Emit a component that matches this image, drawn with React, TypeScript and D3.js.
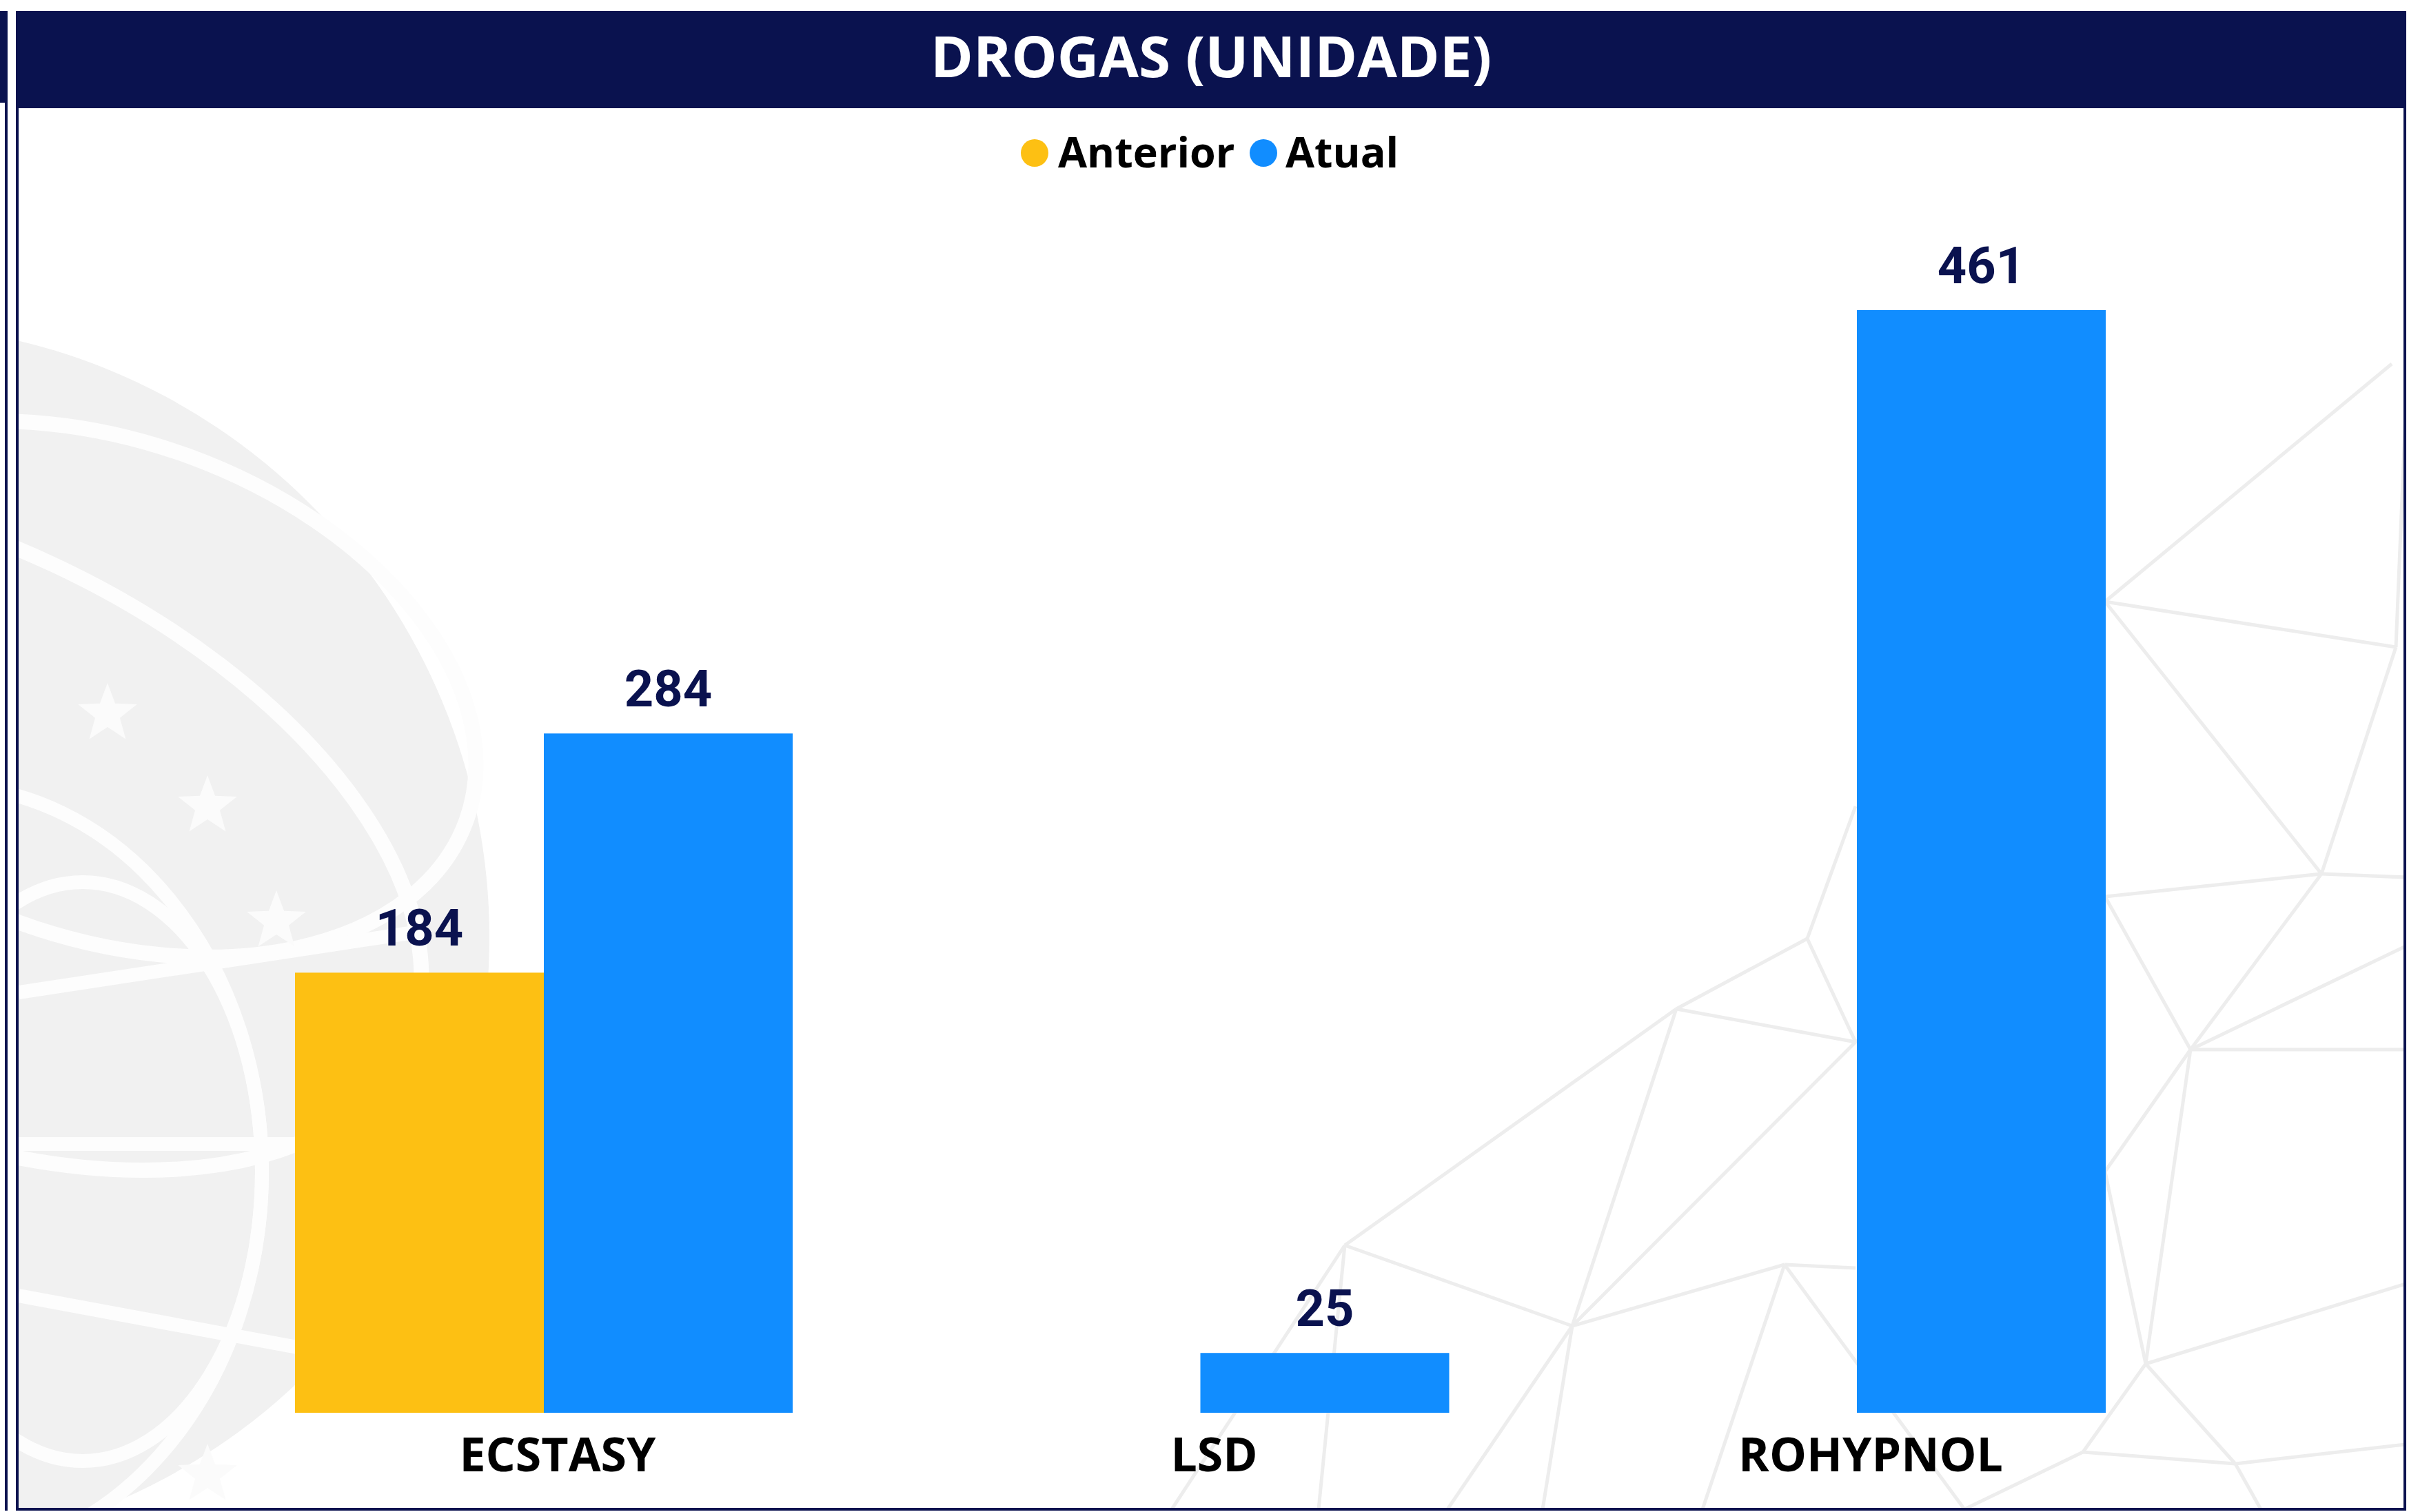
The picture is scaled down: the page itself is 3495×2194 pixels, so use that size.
import React from "react";
import * as d3 from "d3";

const title = "DROGAS (UNIDADE)";
const categories = ["ECSTASY", "LSD", "ROHYPNOL"];
const seriesNames = ["Anterior", "Atual"];
const anteriorValues: (number | null)[] = [184, null, null];
const atualValues: (number | null)[] = [284, 25, 461];
const seriesColors = ["#FDC013", "#118DFF"];

// decorative watermark mesh (background graphic)
const meshPoints: [number, number][] = [
  [3470, 528], [3054, 873], [3476, 939], [3368, 1268], [3054, 1301],
  [2622, 1362], [2432, 1464], [2692, 1512], [3178, 1523], [3490, 1273],
  [3490, 1523], [3490, 1373], [1951, 1807], [2281, 1924], [2589, 1835],
  [3113, 1979], [3022, 2107], [3243, 2124], [3490, 1863], [3490, 2096],
  [1913, 2190], [2238, 2190], [2470, 2190], [2692, 1840], [3054, 1700],
  [2692, 1170], [3280, 2190], [2850, 2190], [3490, 600], [1700, 2190],
  [2100, 2190],
];
const meshEdges: [number, number][] = [
  [0, 1], [1, 2], [1, 3], [2, 3], [3, 4], [3, 9], [3, 8], [8, 11], [8, 10],
  [8, 15], [5, 6], [5, 7], [6, 7], [6, 12], [6, 13], [12, 13], [13, 14],
  [14, 23], [13, 7], [14, 22], [13, 21], [12, 20], [15, 18], [15, 16],
  [15, 17], [16, 17], [17, 19], [17, 26], [8, 24], [24, 15], [5, 25],
  [2, 28], [16, 27], [4, 8], [7, 4], [12, 29], [13, 30], [14, 27],
];

const stars: [number, number][] = [[156, 1036], [301, 1170], [401, 1337], [301, 2140]];

function starPath(cx: number, cy: number, r: number) {
  const pts: string[] = [];
  for (let i = 0; i < 10; i++) {
    const a = -Math.PI / 2 + (i * Math.PI) / 5;
    const rr = i % 2 === 0 ? r : r * 0.42;
    pts.push(`${cx + rr * Math.cos(a)},${cy + rr * Math.sin(a)}`);
  }
  return "M" + pts.join("L") + "Z";
}

export default function App() {
  const W = 3495;
  const H = 2194;
  const navy = "#0A124F";
  const baseline = 2050;
  const plotTop = 450;

  const x0 = d3
    .scaleBand<string>()
    .domain(categories)
    .range([428, 3055])
    .paddingInner(0.242)
    .paddingOuter(0);
  const x1 = d3
    .scaleBand<string>()
    .domain(seriesNames)
    .range([0, x0.bandwidth()])
    .padding(0);
  const maxV = d3.max(atualValues.concat(anteriorValues) as number[]) as number;
  const y = d3.scaleLinear().domain([0, maxV]).range([baseline, plotTop]);

  const series = [anteriorValues, atualValues];

  const labelFont = "'Open Sans', 'Noto Sans', sans-serif";
  const valueFont = "Roboto, 'Noto Sans', sans-serif";

  return (
    <svg
      width={W}
      height={H}
      style={{ position: "absolute", left: 0, top: 0, background: "#fff" }}
    >
      <defs>
        <clipPath id="panelClip">
          <rect x={27} y={157} width={3460} height={2031} />
        </clipPath>
      </defs>

      {/* neighbouring visual sliver */}
      <rect x={0} y={16} width={11} height={133} fill={navy} />
      <rect x={7} y={149} width={4} height={2043} fill={navy} />

      {/* panel */}
      <rect x={23} y={157} width={3468} height={2035} fill="#fff" />

      {/* watermark */}
      <g clipPath="url(#panelClip)">
        <circle cx={-180} cy={1360} r={890} fill="#f1f1f1" />
        <ellipse cx={150} cy={1000} rx={560} ry={360} fill="none" stroke="#fdfdfd" strokeWidth={22} transform="rotate(20 150 1000)" />
        <ellipse cx={-100} cy={1200} rx={760} ry={420} fill="none" stroke="#fdfdfd" strokeWidth={22} transform="rotate(25 -100 1200)" />
        <ellipse cx={120} cy={1700} rx={260} ry={420} fill="none" stroke="#fdfdfd" strokeWidth={20} />
        <ellipse cx={-80} cy={1700} rx={460} ry={560} fill="none" stroke="#fdfdfd" strokeWidth={20} />
        <line x1={27} y1={1660} x2={700} y2={1660} stroke="#fdfdfd" strokeWidth={20} />
        <line x1={27} y1={1440} x2={620} y2={1350} stroke="#fdfdfd" strokeWidth={20} />
        <line x1={27} y1={1880} x2={620} y2={1990} stroke="#fdfdfd" strokeWidth={20} />
        {stars.map((s, i) => (
          <path key={i} d={starPath(s[0], s[1], 45)} fill="#fbfbfb" />
        ))}
        {meshEdges.map(([a, b], i) => (
          <line
            key={"m" + i}
            x1={meshPoints[a][0]}
            y1={meshPoints[a][1]}
            x2={meshPoints[b][0]}
            y2={meshPoints[b][1]}
            stroke="#ededed"
            strokeWidth={5}
          />
        ))}
      </g>

      {/* panel border */}
      <rect x={23} y={157} width={4} height={2035} fill={navy} />
      <rect x={3487} y={157} width={4} height={2035} fill={navy} />
      <rect x={23} y={2188} width={3468} height={4} fill={navy} />

      {/* header */}
      <rect x={23} y={16} width={3468} height={141} fill={navy} />
      <text
        x={(23 + 3491) / 2}
        y={112}
        textAnchor="middle"
        fill="#fff"
        fontFamily={labelFont}
        fontWeight={700}
        fontSize={82}
        textLength={814}
        lengthAdjust="spacingAndGlyphs"
      >
        {title}
      </text>

      {/* legend */}
      <g fontFamily={labelFont} fontWeight={700} fontSize={61} fill="#000">
        <circle cx={1501} cy={222} r={20} fill={seriesColors[0]} />
        <text x={1535} y={243}>{seriesNames[0]}</text>
        <circle cx={1833} cy={222} r={20} fill={seriesColors[1]} />
        <text x={1865} y={243}>{seriesNames[1]}</text>
      </g>

      {/* bars */}
      {categories.map((c, ci) => (
        <g key={c} transform={`translate(${x0(c)},0)`}>
          {series.map((vals, si) => {
            const v = vals[ci];
            if (v == null) return null;
            const bx = x1(seriesNames[si]) as number;
            const bw = x1.bandwidth();
            return (
              <g key={si}>
                <rect
                  x={bx}
                  y={y(v)}
                  width={bw}
                  height={baseline - y(v)}
                  fill={seriesColors[si]}
                />
                <text
                  x={bx + bw / 2}
                  y={y(v) - 39}
                  textAnchor="middle"
                  fill={navy}
                  fontFamily={valueFont}
                  fontWeight={700}
                  fontSize={74}
                >
                  {v}
                </text>
              </g>
            );
          })}
        </g>
      ))}

      {/* category axis labels */}
      <g fontFamily={labelFont} fontWeight={700} fontSize={68} fill="#000">
        {categories.map((c) => (
          <text
            key={c}
            x={(x0(c) as number) + x0.bandwidth() / 2 + 20}
            y={2135}
            textAnchor="middle"
          >
            {c}
          </text>
        ))}
      </g>
    </svg>
  );
}
